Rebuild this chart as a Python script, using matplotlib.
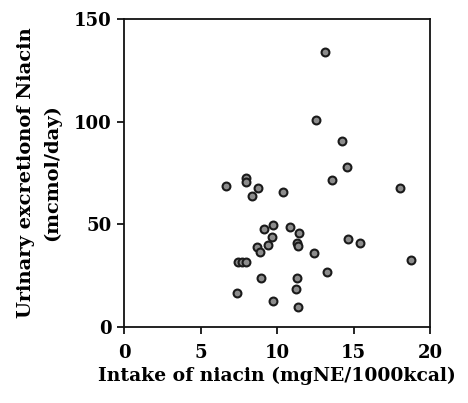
import matplotlib
matplotlib.use("Agg")
import matplotlib.pyplot as plt

# Intake of niacin (mgNE/1000kcal) vs urinary excretion (mcmol/day)
intake = [13.16, 12.57, 14.23, 14.58, 13.6, 6.69, 7.95, 7.95, 8.78, 8.37,
          10.39, 18.06, 9.74, 10.85, 9.13, 11.46, 9.67, 14.64, 15.45, 11.3,
          11.35, 9.43, 8.67, 8.91, 12.42, 7.47, 7.73, 7.95, 18.76, 13.27,
          8.97, 11.31, 11.26, 7.36, 9.74, 11.39]
excretion = [134, 100.8, 90.7, 77.8, 71.6, 68.8, 72.6, 70.8, 67.7, 64,
             65.8, 67.7, 49.7, 48.9, 47.6, 45.8, 43.7, 42.9, 40.8, 40.8,
             39.4, 39.9, 38.8, 36.7, 35.9, 31.8, 31.8, 31.8, 32.6, 26.8,
             23.7, 23.7, 18.7, 16.6, 12.7, 9.6]

plt.rcParams['font.family'] = ['DejaVu Serif']
plt.rcParams['font.weight'] = 'bold'

fig = plt.figure(figsize=(4.68, 4.03), dpi=100)
ax = fig.add_axes([0.265, 0.1886, 0.654, 0.7644])

ax.scatter(intake, excretion, s=32, c='#8c8c8c', edgecolors='#1a1a1a',
           linewidths=1.5, zorder=3)

ax.set_xlim(0, 20)
ax.set_ylim(0, 150)
ax.set_xticks([0, 5, 10, 15, 20])
ax.set_yticks([0, 50, 100, 150])

for sp in ax.spines.values():
    sp.set_linewidth(1.3)
    sp.set_color('#111111')

ax.tick_params(direction='out', length=5, width=1.2, labelsize=13, pad=4)
ax.tick_params(axis='x', pad=7)
for lab in ax.get_xticklabels() + ax.get_yticklabels():
    lab.set_fontweight('bold')

ax.set_xlabel('Intake of niacin (mgNE/1000kcal)', fontsize=13.5,
              fontweight='bold', labelpad=4)
ax.set_ylabel('Urinary excretionof Niacin\n(mcmol/day)', fontsize=14,
              fontweight='bold', labelpad=9, linespacing=1.55)

fig.savefig('out.png', dpi=100)
